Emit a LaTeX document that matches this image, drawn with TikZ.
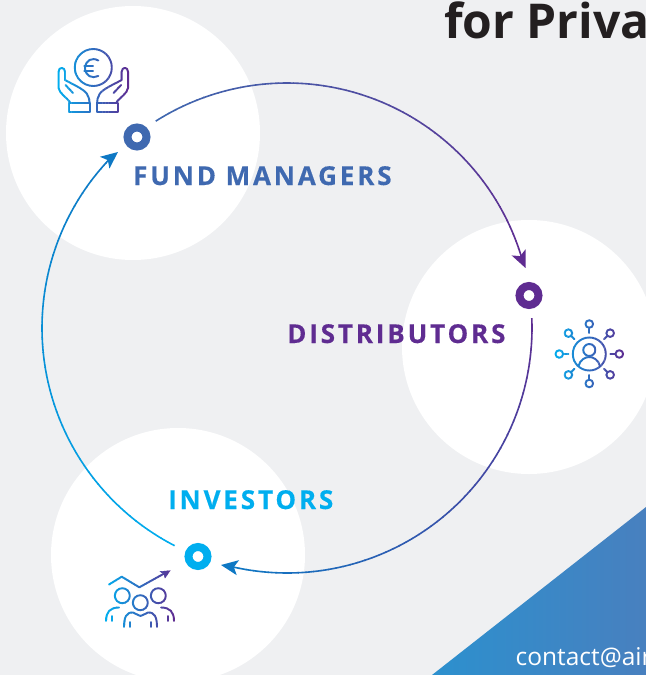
\documentclass[tikz,border=0pt]{standalone}
\usepackage{fontspec}
\usetikzlibrary{arrows.meta}
\setmainfont{Open Sans}
\newfontfamily\lblfont[LetterSpace=11,BoldFeatures={FakeBold=0.35}]{Open Sans}
\definecolor{bgcol}{HTML}{EFF0F2}
\definecolor{cya}{HTML}{00AEEF}
\definecolor{mid}{HTML}{0E78C4}
\definecolor{fundb}{HTML}{3F69B0}
\definecolor{purp}{HTML}{5F2C91}
\definecolor{titlec}{HTML}{231F20}
\definecolor{trileft}{HTML}{2C90CE}
\definecolor{triright}{HTML}{4880BF}
\tikzset{
  blob/.style={circle,fill=white,minimum size=#1,inner sep=0},
  dotn/.style={circle,draw=#1,fill=white,line width=8pt,minimum size=19pt,inner sep=0},
  lbl/.style={font=\lblfont\bfseries\fontsize{26}{28}\selectfont,text=#1,inner sep=0,anchor=base west},
  ic/.style={line width=1.9pt,line cap=round,line join=round},
  tip/.style={-{Stealth[length=17pt,width=15pt,inset=4pt]}}
}
% gradient arc: start angle, end angle, colour a, colour b, steps
\newcommand{\gradarc}[5]{%
  \foreach \k in {1,...,#5}{%
    \pgfmathsetmacro{\aa}{#1+(#2-#1)*(\k-1)/#5}%
    \pgfmathsetmacro{\ab}{#1+(#2-#1)*\k/#5+0.15}%
    \pgfmathtruncatemacro{\pc}{100*\k/#5}%
    \draw[line width=1.6pt,color={#4!\pc!#3}] ({287+245*cos(\aa)},{328+245*sin(\aa)}) arc[start angle=\aa,end angle=\ab,radius=245];
  }}
% horizontally graded icon: x from, x to, y from, y to, body macro
\newcommand{\gradicon}[5]{%
  \foreach \k in {1,...,24}{%
    \pgfmathsetmacro{\xa}{#1+(#2-#1)*(\k-1)/24}%
    \pgfmathsetmacro{\xb}{#1+(#2-#1)*\k/24+0.3}%
    \pgfmathtruncatemacro{\pc}{100*(\k-1)/23}%
    \begin{scope}
      \clip (\xa,#3-20) rectangle (\xb,#4+20);
      \colorlet{icc}{purp!\pc!cya}
      #5
    \end{scope}
  }}
\newcommand{\onehand}{%
 \draw[ic,icc] (69,103) rectangle (90,112);
 \draw[ic,icc] (70,102) .. controls (66,97) and (60,94) .. (58.5,88) -- (58.5,72) .. controls (58.5,66.5) and (65,66.5) .. (65,72) -- (65,80) .. controls (72,84) and (84,89) .. (87,94) .. controls (89,97) and (89.5,100) .. (89.5,103);
 \draw[ic,icc] (65.5,85) -- (73,93);
}
\newcommand{\handsicon}{%
 \draw[ic,icc] (93.3,67.5) circle[radius=18.5];
 \draw[ic,icc] (98.3,60.5) .. controls (92,57) and (85.5,60) .. (85,68.3) .. controls (85.5,76) and (92,79) .. (98.3,76);
 \draw[ic,icc] (84.3,66) -- (93,66) (84.3,70.7) -- (93,70.7);
 \onehand
 \begin{scope}[xshift=186.6pt,x=-1pt]\onehand\end{scope}
}
\newcommand{\netspoke}[4]{% angle, radius hub, circle radius centre, circle radius
 \draw[ic,icc] ({589.3+#2*cos(#1)},{354+#2*sin(#1)}) -- ({589.3+(#2+4.5)*cos(#1)},{354+(#2+4.5)*sin(#1)});
 \draw[ic,icc] ({589.3+#3*cos(#1)},{354+#3*sin(#1)}) circle[radius=#4];
}
\newcommand{\neticon}{%
 \draw[ic,icc] (589.3,354) circle[radius=16.5];
 \draw[ic,icc] (589.3,350) circle[radius=6];
 \draw[ic,icc] (578.5,366) .. controls (580,360) and (585,357) .. (589.3,357) .. controls (593.5,357) and (598.5,360) .. (600,366);
 \foreach \an/\rr in {-90/30,-45/29.5,0/30,45/29.5,90/29.5,135/29.5,180/30,225/29.5}{\netspoke{\an}{21}{\rr}{3.8}}
}
\newcommand{\peopleicon}{%
 \draw[ic,icc] (109,584.5) -- (121.7,576.7) -- (139.3,587.3) -- (166,572.5);
 \draw[icc,fill=icc] (170,570.7) -- (160,571.5) -- (164,574) -- (165,578) -- cycle;
 \draw[ic,icc] (122.3,595.7) circle[radius=7.5];
 \draw[ic,icc] (158.3,595.7) circle[radius=7.5];
 \draw[ic,icc] (140.3,602.7) circle[radius=7.5];
 \draw[ic,icc] (106,621) .. controls (106,612) and (110,607.5) .. (119,607.5);
 \draw[ic,icc] (174,621) .. controls (174,612) and (170,607.5) .. (161,607.5);
 \draw[ic,icc] (124,627) .. controls (124,618) and (126,612) .. (133,612.5) .. controls (136,612.5) and (137,616) .. (140.5,616) .. controls (144,616) and (145,612.5) .. (148,612.5) .. controls (155,612) and (157,618) .. (157,627);
 \draw[ic,icc] (112,616) -- (112,621) (168,616) -- (168,621) (130,622) -- (130,627) (151,622) -- (151,627);
}
\begin{document}
\begin{tikzpicture}[x=1pt,y=-1pt]
\useasboundingbox (0,0) rectangle (646,675);
\clip (0,0) rectangle (646,675);
\fill[bgcol] (0,0) rectangle (646,675);
\node[blob=254pt] (fundblob) at (133,133) {};
\node[blob=254pt] (distblob) at (529,347) {};
\node[blob=254pt] (invblob) at (178,555) {};
\shade[left color=trileft,right color=triright] (432,675) -- (646,507) -- (646,675) -- cycle;
\node[font=\fontsize{24.5}{27}\selectfont,text=white,inner sep=0,anchor=base west] (mail) at (515.5,665) {contact@air};
\node[font=\bfseries\fontsize{48}{52}\selectfont,text=titlec,inner sep=0,anchor=base west] (title) at (444,38.5) {for Priva};
% circles and labels
\node[dotn=fundb] (fund) at (137,137) {};
\node[dotn=purp] (dist) at (529,295.5) {};
\node[dotn=cya] (inv) at (198,556.5) {};
\node[lbl=fundb] (fundl) at (133,185) {FUND MANAGERS};
\node[lbl=purp] (distl) at (287,343) {DISTRIBUTORS};
\node[lbl=cya] (invl) at (168,509) {INVESTORS};
% arcs
\gradarc{-122.4}{-15.5}{fundb}{purp}{60}
\gradarc{-2.3}{103}{purp}{mid}{60}
\gradarc{117.3}{224}{cya}{mid}{60}
\coordinate (a1) at ({287+245*cos(-15.5)},{328+245*sin(-15.5)});
\coordinate (a1e) at (525.5,268);
\coordinate (a2) at ({287+245*cos(103)},{328+245*sin(103)});
\coordinate (a2e) at (221,565);
\coordinate (a3) at ({287+245*cos(224)},{328+245*sin(224)});
\coordinate (a3e) at (118,152);
\draw[tip,line width=1.6pt,purp] (a1) -- (a1e);
\draw[tip,line width=1.6pt,mid] (a2) -- (a2e);
\draw[tip,line width=1.6pt,mid] (a3) -- (a3e);
% icons
\gradicon{56}{130}{62}{112}{\handsicon}
\gradicon{552}{626}{315}{392}{\neticon}
\gradicon{104}{176}{568}{630}{\peopleicon}
\end{tikzpicture}
\end{document}
